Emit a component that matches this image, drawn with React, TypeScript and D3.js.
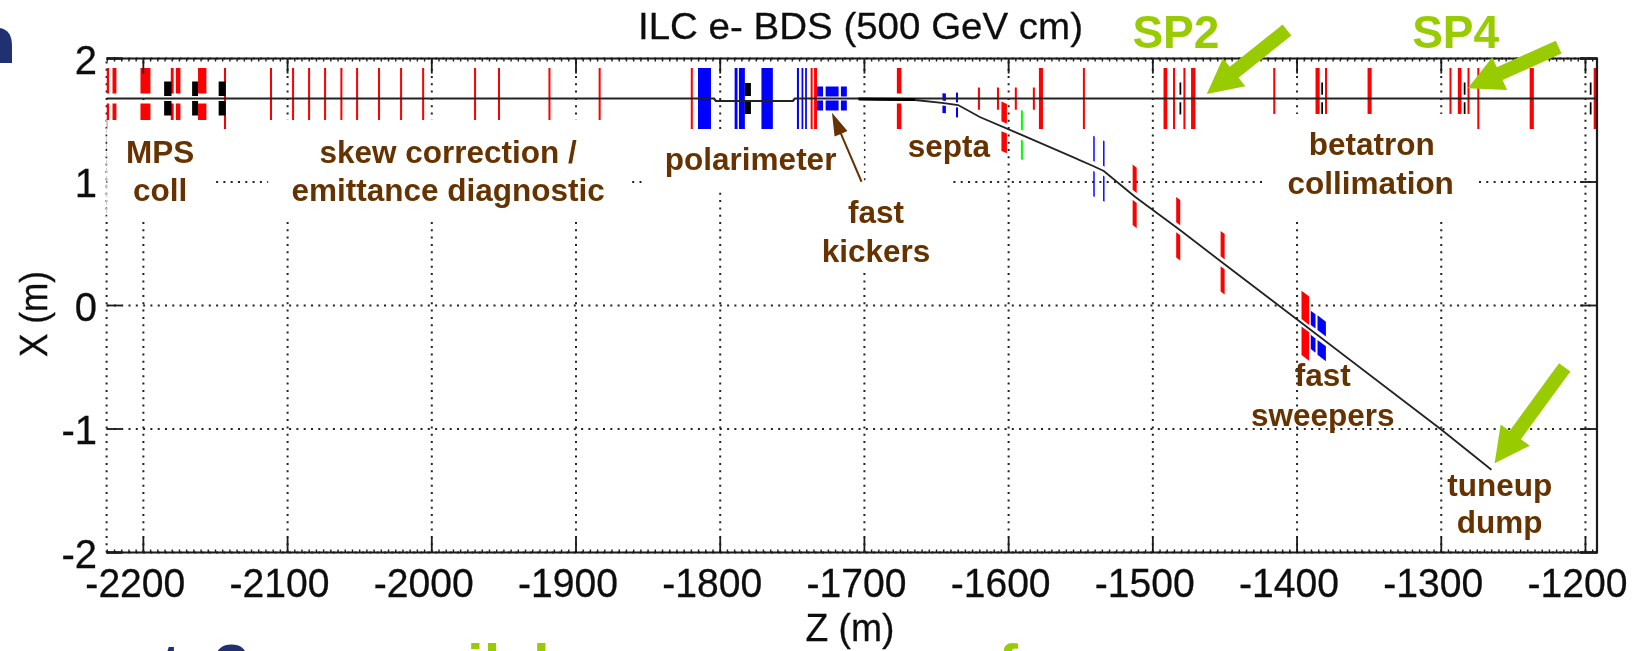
import React from 'react';
import * as d3 from 'd3';

const W = 1647;
const H = 651;
const FONT = '"Liberation Sans", Arial, sans-serif';
const BROWN = '#663300';
const LIME = '#99cc00';
const NAVY = '#203070';

// Z range of the axes (m)
const zDomain = [-2225.5, -1192];
const xDomain = [-2, 2];
const zTicks = [-2200, -2100, -2000, -1900, -1800, -1700, -1600, -1500, -1400, -1300, -1200];
const xTicks = [-2, -1, 0, 1, 2];

// Main line sits at a constant X
const mainX = 1.676;

// Beam trajectories [z, x]
const mainLineA = [[-2225.5, 1.676], [-1804.3, 1.676], [-1803, 1.656], [-1749.6, 1.656], [-1748.2, 1.676], [-1192, 1.676]];
const dumpLine = [
  [-1704, 1.672], [-1665, 1.664], [-1646.2, 1.64], [-1635, 1.623], [-1620, 1.526], [-1591, 1.381],
  [-1541.4, 1.13], [-1534, 1.089], [-1512.4, 0.881], [-1481.2, 0.611], [-1450.5, 0.336],
  [-1399.5, -0.117], [-1300.5, -1.0], [-1265.2, -1.33],
];
const dumpThick = [[-1704, 1.672], [-1665, 1.668]];

// Magnets on the main line: [zStart, zEnd, half height, half gap]
const redMain = [
  [-2225.4, -2223.8, 0.247, 0.04], [-2221.4, -2218.7, 0.247, 0.04], [-2202, -2195.1, 0.247, 0.04],
  [-2181, -2179, 0.247, 0.04], [-2177.5, -2174.3, 0.247, 0.04], [-2162.1, -2156.3, 0.247, 0.04],
  [-2144.1, -2142.7, 0.247, 0], [-2112.2, -2110.8, 0.247, 0], [-2096.9, -2095.5, 0.247, 0],
  [-2085.8, -2084.4, 0.247, 0], [-2074.7, -2073.3, 0.247, 0], [-2063.4, -2062, 0.247, 0],
  [-2052.5, -2051.1, 0.247, 0], [-2037.3, -2035.9, 0.247, 0], [-2022, -2020.6, 0.247, 0],
  [-2006.7, -2005.3, 0.247, 0], [-1970.7, -1969.3, 0.247, 0], [-1954.1, -1952.7, 0.247, 0],
  [-1919.1, -1917.7, 0.247, 0], [-1884.3, -1882.9, 0.247, 0], [-1820.4, -1819, 0.247, 0],
  [-1737.3, -1735.9, 0.247, 0], [-1734.9, -1732.9, 0.247, 0], [-1677.5, -1674.4, 0.247, 0.04],
  [-1621.3, -1619.9, 0.09, 0], [-1608.1, -1606.7, 0.09, 0], [-1595.7, -1594.3, 0.09, 0],
  [-1583.2, -1581.8, 0.09, 0], [-1579, -1576.2, 0.247, 0], [-1548.5, -1547.1, 0.247, 0],
  [-1492.6, -1490, 0.247, 0], [-1486, -1484.6, 0.247, 0], [-1478.8, -1477.4, 0.247, 0],
  [-1473.5, -1470.5, 0.247, 0], [-1416.5, -1415.1, 0.247, 0], [-1387.2, -1384.3, 0.247, 0],
  [-1380.6, -1379.2, 0.247, 0], [-1351.1, -1348.3, 0.247, 0], [-1294.3, -1292.9, 0.247, 0],
  [-1288.5, -1286, 0.247, 0], [-1281.8, -1280.4, 0.247, 0], [-1275, -1273.6, 0.247, 0],
  [-1238.7, -1235.8, 0.247, 0], [-1194.3, -1192.4, 0.247, 0],
];
const blueMain = [
  [-1815.4, -1806.4, 0.247, 0], [-1790, -1788, 0.247, 0], [-1787, -1782.9, 0.247, 0],
  [-1771.4, -1763.5, 0.247, 0], [-1746.8, -1745.4, 0.247, 0], [-1743.6, -1742.4, 0.247, 0],
  [-1741.1, -1739.9, 0.247, 0], [-1732.9, -1728.7, 0.097, 0.016], [-1726.9, -1717.9, 0.097, 0.016],
  [-1716.3, -1712.2, 0.097, 0.016],
];
const blackMain = [
  [-2185.6, -2180.5, 0.138, 0.02], [-2166.2, -2162.1, 0.138, 0.02], [-2147.8, -2142.9, 0.138, 0.02],
  [-1782.9, -1778.7, 0.125, 0.02], [-1481.5, -1480.3, 0.13, 0.03], [-1383.2, -1382, 0.13, 0.03],
  [-1284.4, -1283.2, 0.13, 0.03], [-1197, -1195.8, 0.13, 0.03],
];

// Magnets on the dump line
const redDump = [
  [-1605, -1601.2, 0.2, 0.04], [-1514, -1511.2, 0.245, 0.04], [-1483.8, -1481, 0.245, 0.04],
  [-1453, -1450.2, 0.245, 0.04], [-1396.9, -1391.6, 0.26, 0.03],
];
const blueDump = [
  [-1645.9, -1643.5, 0.08, 0.02], [-1636.5, -1635.1, 0.1, 0.02], [-1541.3, -1540.3, 0.245, 0.04],
  [-1534.5, -1533.5, 0.245, 0.04], [-1390.5, -1387.2, 0.155, 0.04], [-1385.8, -1380, 0.16, 0.04],
];
const greenDump = [[-1591.5, -1590.1, 0.2, 0.04]];

// White patches that hide the plot behind the slide labels: [z0, z1, x0, x1]
const patches = [
  [-2225, -2149.6, 0.709, 1.502],
  [-2113.5, -1863.3, 0.709, 1.502],
  [-1853.6, -1700.4, 0.919, 1.421],
  [-1737.8, -1640.9, 0.271, 1.008],
  [-1421.6, -1275.3, 0.717, 1.551],
];

// Slide labels: [text, z, x]
const brownLabels: [string, number, number][] = [
  ['MPS', -2188.4, 1.154], ['coll', -2188.4, 0.846],
  ['skew correction /', -1988.7, 1.154], ['emittance diagnostic', -1988.7, 0.846],
  ['polarimeter', -1778.9, 1.097], ['septa', -1641.4, 1.202],
  ['fast', -1692, 0.67], ['kickers', -1692, 0.352],
  ['betatron', -1348.2, 1.219], ['collimation', -1348.9, 0.903],
  ['fast', -1382.1, -0.652], ['sweepers', -1382.1, -0.976],
  ['tuneup', -1259.5, -1.543], ['dump', -1259.5, -1.842],
];
const limeLabels: [string, number, number][] = [['SP2', -1484, 2.085], ['SP4', -1290, 2.085]];

// Arrows: [tail z, tail x, tip z, tip x]
const limeArrows = [
  [-1407, 2.23, -1462.6, 1.712],
  [-1218.6, 2.093, -1281.6, 1.76],
  [-1214.4, -0.5, -1263, -1.278],
];
const brownArrow = [-1702, 1.002, -1722.5, 1.561];

const z = d3.scaleLinear().domain(zDomain).range([106.6, 1597]);
const x = d3.scaleLinear().domain(xDomain).range([552.5, 58.5]);
const zMinor = d3.range(-2225, -1192, 5);

const dumpZ = dumpLine.map(d => d[0]);
const dumpX = d3.scaleLinear().domain(dumpZ).range(dumpLine.map(d => d[1])).clamp(true);

const line = d3.line<number[]>().x(d => z(d[0])).y(d => x(d[1]));
const poly = d3.line<number[]>();

// Upper and lower jaw of a magnet, following the beam it sits on
function magnetPath(m: number[], center: (v: number) => number) {
  const [a, b, half, gap] = m;
  const jaw = (from: number, to: number) =>
    poly([
      [z(a), x(center(a) + from)],
      [z(b), x(center(b) + from)],
      [z(b), x(center(b) + to)],
      [z(a), x(center(a) + to)],
    ]) + 'Z';
  return jaw(gap, half) + jaw(-half, -gap);
}

function arrowPath(a: number[], shaft: number, headLen: number, headHalf: number) {
  const x0 = z(a[0]);
  const y0 = x(a[1]);
  const x1 = z(a[2]);
  const y1 = x(a[3]);
  const len = Math.hypot(x1 - x0, y1 - y0);
  const ux = (x1 - x0) / len;
  const uy = (y1 - y0) / len;
  const bx = x1 - ux * headLen;
  const by = y1 - uy * headLen;
  return poly([
    [x0 - uy * shaft, y0 + ux * shaft],
    [bx - uy * shaft, by + ux * shaft],
    [bx - uy * headHalf, by + ux * headHalf],
    [x1, y1],
    [bx + uy * headHalf, by - ux * headHalf],
    [bx + uy * shaft, by - ux * shaft],
    [x0 + uy * shaft, y0 - ux * shaft],
  ]) + 'Z';
}

const constMain = () => mainX;
const DOTS = '2 5.3';

export default function App() {
  const [l, r] = z.range();
  const [b, t] = x.range();
  return (
    <svg width={W} height={H} viewBox={`0 0 ${W} ${H}`} style={{ position: 'absolute', left: 0, top: 0, background: '#fff' }} fontFamily={FONT}>
      <defs>
        <filter id="soft" x="-2%" y="-2%" width="104%" height="104%">
          <feGaussianBlur stdDeviation="0.45" />
        </filter>
      </defs>
      <g filter="url(#soft)">
        {/* grid */}
        <g stroke="#222" strokeWidth={2} strokeDasharray={DOTS} fill="none">
          {zTicks.map(v => <line key={v} x1={z(v)} x2={z(v)} y1={b} y2={t} />)}
          {xTicks.map(v => <line key={v} x1={l} x2={r} y1={x(v)} y2={x(v)} />)}
          <line x1={l} x2={l} y1={b} y2={t} />
        </g>

        {/* magnets */}
        {redMain.map((m, i) => <path key={i} d={magnetPath(m, constMain)} fill="#ff0000" />)}
        {blueMain.map((m, i) => <path key={i} d={magnetPath(m, constMain)} fill="#0000ff" />)}
        {blackMain.map((m, i) => <path key={i} d={magnetPath(m, constMain)} fill="#000" />)}
        {redDump.map((m, i) => <path key={i} d={magnetPath(m, dumpX)} fill="#ff0000" />)}
        {blueDump.map((m, i) => <path key={i} d={magnetPath(m, dumpX)} fill="#0000ff" />)}
        {greenDump.map((m, i) => <path key={i} d={magnetPath(m, dumpX)} fill="#00ff00" />)}

        {/* beam lines */}
        <path d={line(mainLineA) ?? ''} fill="none" stroke="#222" strokeWidth={2.2} />
        <path d={line(dumpLine) ?? ''} fill="none" stroke="#222" strokeWidth={1.8} />
        <path d={line(dumpThick) ?? ''} fill="none" stroke="#000" strokeWidth={3} />

        {/* frame and ticks */}
        <g stroke="#1a1a1a" fill="none">
          <path d={`M${l},${t}H${r}V${b}H${l}`} strokeWidth={2.2} />
          {zTicks.map(v => (
            <g key={v} strokeWidth={1.8}>
              <line x1={z(v)} x2={z(v)} y1={t} y2={t + 15} />
              <line x1={z(v)} x2={z(v)} y1={b} y2={b - 15} />
            </g>
          ))}
          {zMinor.map(v => (
            <g key={v} strokeWidth={1.4}>
              <line x1={z(v)} x2={z(v)} y1={t} y2={t + 3} />
              <line x1={z(v)} x2={z(v)} y1={b} y2={b - 3} />
            </g>
          ))}
          {xTicks.map(v => (
            <g key={v} strokeWidth={v === 2 || v === -2 ? 2.6 : 1.8}>
              <line x1={l} x2={l + 15} y1={x(v)} y2={x(v)} />
              <line x1={r} x2={r - 17} y1={x(v)} y2={x(v)} />
            </g>
          ))}
        </g>

        {/* white label patches */}
        {patches.map((p, i) => (
          <rect key={i} x={z(p[0])} y={x(p[3])} width={z(p[1]) - z(p[0])} height={x(p[2]) - x(p[3])} fill="#fff" />
        ))}
        <line x1={l} x2={l} y1={x(patches[0][3])} y2={x(patches[0][2])} stroke="#ccc" strokeWidth={1} strokeDasharray="5 3" />

        {/* tick labels */}
        <g fill="#111" stroke="#111" strokeWidth={0.3} fontSize={40}>
          {zTicks.map(v => (
            <text key={v} x={z(v) - 8} y={597} textAnchor="middle" textLength={100} lengthAdjust="spacingAndGlyphs">{v}</text>
          ))}
          {xTicks.map(v => (
            <text key={v} x={97} y={x(v) + 15} textAnchor="end">{v}</text>
          ))}
          <text x={638} y={39} fontSize={37} textLength={445} lengthAdjust="spacingAndGlyphs">ILC e- BDS (500 GeV cm)</text>
          <text x={850} y={641} textAnchor="middle" fontSize={38} textLength={89} lengthAdjust="spacingAndGlyphs">Z (m)</text>
          <text transform="translate(47,314) rotate(-90)" textAnchor="middle" fontSize={38} textLength={86} lengthAdjust="spacingAndGlyphs">X (m)</text>
        </g>
      </g>

      {/* slide annotations */}
      <g fontWeight="bold" textAnchor="middle">
        {brownLabels.map((d, i) => (
          <text key={i} x={z(d[1])} y={x(d[2])} fontSize={31.5} fill={BROWN}>{d[0]}</text>
        ))}
        {limeLabels.map((d, i) => (
          <text key={i} x={z(d[1])} y={x(d[2])} fontSize={46} fill={LIME}>{d[0]}</text>
        ))}
      </g>
      <path d={arrowPath(brownArrow, 1, 23, 7)} fill={BROWN} />
      {limeArrows.map((a, i) => <path key={i} d={arrowPath(a, 7, 35, 18)} fill={LIME} />)}

      {/* bits of the slide around the picture */}
      <path d="M0,28Q12,30 12,46V63H0Z" fill={NAVY} />
      <g fontWeight="bold" fontSize={60}>
        <text x={161} y={686} fill={NAVY}>t</text>
        <text x={213} y={686} fill={NAVY}>?</text>
        <text x={467} y={686} fill={LIME}>il</text>
        <text x={533} y={686} fill={LIME}>b</text>
        <text x={998} y={686} fill={LIME}>f</text>
      </g>
    </svg>
  );
}
